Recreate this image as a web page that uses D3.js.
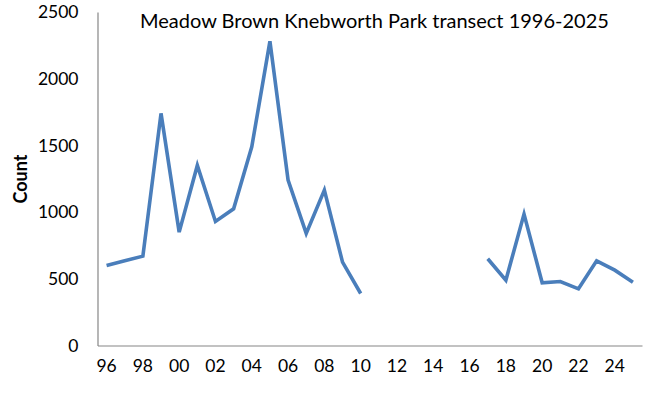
<!DOCTYPE html>
<html>
<head>
<meta charset="utf-8">
<script src="https://cdn.jsdelivr.net/npm/d3@7"></script>
<style>
  html, body { margin: 0; padding: 0; background: #fff; }
  svg { display: block; font-family: Lato, "Open Sans", sans-serif; }
</style>
</head>
<body>
<svg id="chart" width="651" height="393"></svg>
<script>
// ---- Data ----
const years = d3.range(1996, 2026);
const counts = [600, 635, 670, 1740, 850, 1350, 930, 1025, 1490, 2280,
                1240, 840, 1165, 625, 390, null, null, null, null, null,
                null, 650, 490, 985, 470, 480, 425, 635, 565, 475];
const yTicks = [0, 500, 1000, 1500, 2000, 2500];
const xTickYears = d3.range(1996, 2026, 2);
const title = "Meadow Brown Knebworth Park transect 1996-2025";
const yTitle = "Count";

// ---- Layout ----
const W = 651, H = 393;
const m = { left: 97.5, right: 9, top: 12, bottom: 47.5 };
const svg = d3.select("#chart");

const x = d3.scaleBand().domain(years).range([m.left, W - m.right]).padding(0);
const y = d3.scaleLinear().domain([0, 2500]).range([H - m.bottom, m.top]);

// axes
const xAxis = d3.axisBottom(x)
  .tickValues(xTickYears)
  .tickSize(0)
  .tickPadding(14)
  .tickFormat(d => String(d).slice(2));
const gx = svg.append("g").attr("transform", `translate(0,${H - m.bottom})`).call(xAxis);
gx.select(".domain").attr("stroke", "#868686").attr("stroke-width", 1.2);
gx.selectAll("text").attr("font-size", 17.5).attr("fill", "#000")
  .attr("font-family", "Lato, 'Open Sans', sans-serif");

const yAxis = d3.axisLeft(y).tickValues(yTicks).tickSize(0).tickPadding(19)
  .tickFormat(d3.format("d"));
const gy = svg.append("g").attr("transform", `translate(${m.left},0)`).call(yAxis);
gy.select(".domain").attr("stroke", "#868686").attr("stroke-width", 1.2);
gy.selectAll("text").attr("font-size", 17.5).attr("fill", "#000")
  .attr("font-family", "Lato, 'Open Sans', sans-serif");

// line
const data = years.map((yr, i) => ({ yr, v: counts[i] }));
const line = d3.line()
  .defined(d => d.v !== null)
  .x(d => x(d.yr) + x.bandwidth() / 2)
  .y(d => y(d.v));
svg.append("path")
  .datum(data)
  .attr("fill", "none")
  .attr("stroke", "#4a7ebb")
  .attr("stroke-width", 3.6)
  .attr("stroke-linejoin", "miter")
  .attr("d", line);

// title
const t = svg.append("text")
  .attr("x", 140)
  .attr("y", 28)
  .attr("font-size", 18.5)
  .attr("fill", "#000")
  .text(title);
const targetW = 469;
const curW = t.node().getComputedTextLength();
if (curW > 0) t.attr("font-size", 18.5 * targetW / curW);

// y title
svg.append("text")
  .attr("transform", "translate(27,179) rotate(-90)")
  .attr("text-anchor", "middle")
  .attr("font-size", 18)
  .attr("font-weight", "bold")
  .attr("fill", "#000")
  .text(yTitle);
</script>
</body>
</html>
